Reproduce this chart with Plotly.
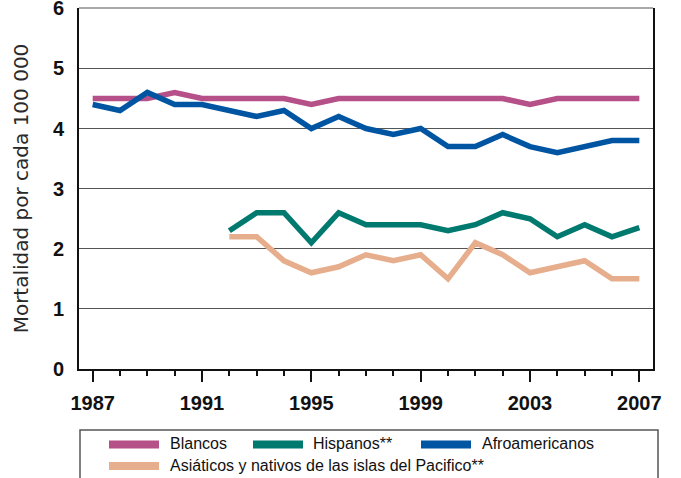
import plotly.graph_objects as go

years = list(range(1987, 2008))
years_late = list(range(1992, 2008))

blancos = [4.5, 4.5, 4.5, 4.6, 4.5, 4.5, 4.5, 4.5, 4.4, 4.5, 4.5,
           4.5, 4.5, 4.5, 4.5, 4.5, 4.4, 4.5, 4.5, 4.5, 4.5]
afro = [4.4, 4.3, 4.6, 4.4, 4.4, 4.3, 4.2, 4.3, 4.0, 4.2, 4.0,
        3.9, 4.0, 3.7, 3.7, 3.9, 3.7, 3.6, 3.7, 3.8, 3.8]
hispanos = [2.3, 2.6, 2.6, 2.1, 2.6, 2.4, 2.4, 2.4, 2.3, 2.4, 2.6,
            2.5, 2.2, 2.4, 2.2, 2.35]
asiaticos = [2.2, 2.2, 1.8, 1.6, 1.7, 1.9, 1.8, 1.9, 1.5, 2.1, 1.9,
             1.6, 1.7, 1.8, 1.5, 1.5]

names = ["Blancos", "Hispanos**", "Afroamericanos",
         "Asiáticos y nativos de las islas del Pacifico**"]
colors = {"Blancos": "#B65088", "Hispanos**": "#00796F",
          "Afroamericanos": "#0055A2",
          "Asiáticos y nativos de las islas del Pacifico**": "#E6AE8D"}

y_ticks = [0, 1, 2, 3, 4, 5, 6]
x_ticks = [1987, 1991, 1995, 1999, 2003, 2007]

W, H = 681, 478
L, R, T, B = 79, 28, 8, 109
PW, PH = W - L - R, H - T - B


def px(x):
    return (x - L) / PW


def py(y):
    return (H - B - y) / PH


fig = go.Figure()
series = [("Blancos", years, blancos),
          ("Hispanos**", years_late, hispanos),
          ("Asiáticos y nativos de las islas del Pacifico**", years_late, asiaticos),
          ("Afroamericanos", years, afro)]
for name, xs, ys in series:
    fig.add_trace(go.Scatter(x=xs, y=ys, mode="lines", name=name,
                             line=dict(color=colors[name], width=5.5),
                             showlegend=False))

# custom legend
shapes = [dict(type="rect", xref="paper", yref="paper",
               x0=px(80), x1=px(658), y0=py(495), y1=py(430),
               line=dict(color="#555555", width=1.5), fillcolor="white",
               layer="below"),
          dict(type="line", xref="paper", yref="paper",
               x0=0, x1=1, y0=1, y1=1,
               line=dict(color="#555555", width=1.2))]
annotations = []
legend_items = [(names[0], 109, 168, 444.5), (names[1], 253, 311, 444.5),
                (names[2], 421, 480, 444.5), (names[3], 109, 168, 466)]
for name, sx, tx, yy in legend_items:
    shapes.append(dict(type="line", xref="paper", yref="paper",
                       x0=px(sx), x1=px(sx + 50), y0=py(yy), y1=py(yy),
                       line=dict(color=colors[name], width=8)))
    annotations.append(dict(xref="paper", yref="paper", x=px(tx), y=py(yy - 1),
                            text=name, showarrow=False, xanchor="left",
                            yanchor="middle",
                            font=dict(family="Liberation Sans, Arial", size=16,
                                      color="#111111")))

fig.update_layout(
    width=W, height=H,
    margin=dict(l=L, r=R, t=T, b=B, autoexpand=False),
    paper_bgcolor="white", plot_bgcolor="white",
    shapes=shapes, annotations=annotations,
    showlegend=False,
)
fig.update_xaxes(
    range=[1986.5, 2007.5], tickmode="array", tickvals=x_ticks,
    ticktext=[str(v) for v in x_ticks],
    ticks="outside", ticklen=11, tickwidth=1.5, tickcolor="#111111",
    minor=dict(dtick=1, tick0=1987, ticks="outside", ticklen=5,
               tickwidth=1.5, tickcolor="#111111", showgrid=False),
    showgrid=False, showline=True, linecolor="#111111", linewidth=1.5,
    zeroline=False, ticklabelstandoff=4,
    tickfont=dict(family="Liberation Sans, Arial", size=20, color="#111111",
                  weight="bold"),
)
fig.update_yaxes(
    range=[0, 6.005], tickmode="array", tickvals=y_ticks,
    ticks="outside", ticklen=0, ticklabelstandoff=9,
    ticklabeloverflow="allow",
    showgrid=True, gridcolor="#555555", gridwidth=1,
    showline=True, mirror=True, linecolor="#111111", linewidth=2,
    zeroline=False,
    tickfont=dict(family="Liberation Sans, Arial", size=20, color="#111111",
                  weight="bold"),
    title=dict(text="Mortalidad por cada 100 000", standoff=19,
               font=dict(family="DejaVu Sans", size=20, color="#2a2a2a")),
)

fig.write_html("out.html", config={"displayModeBar": False},
               post_script="document.body.style.margin='0';document.body.style.overflow='hidden';")
